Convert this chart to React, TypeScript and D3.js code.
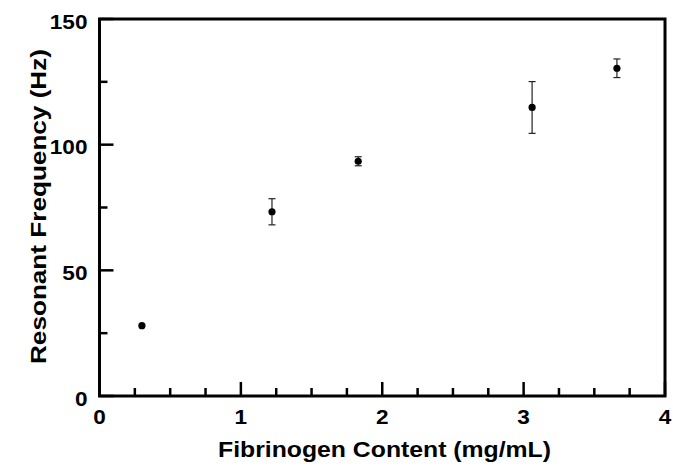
import React from "react";
import * as d3 from "d3";

const fibrinogen = [0.3, 1.22, 1.83, 3.06, 3.66];
const frequency = [28.0, 73.3, 93.4, 114.8, 130.4];
const errors = [0, 5.2, 1.8, 10.3, 3.7];
const xTicks = [0, 1, 2, 3, 4];
const yTicks = [0, 50, 100, 150];
const xMinorTicks = d3.range(0, 4.001, 0.25);
const yMinorTicks = d3.range(0, 150.001, 25);
const xTitle = "Fibrinogen Content (mg/mL)";
const yTitle = "Resonant Frequency (Hz)";

const W = 673;
const H = 469;
const margin = { left: 99.5, right: 673 - 665, top: 19, bottom: 469 - 396 };

export default function App() {
  const x = d3.scaleLinear().domain([0, 4]).range([margin.left, W - margin.right]);
  const y = d3.scaleLinear().domain([0, 150]).range([H - margin.bottom, margin.top]);
  const font = "'Liberation Sans', Arial, Helvetica, sans-serif";
  const x0 = x(0);
  const y0 = y(0);
  return (
    <svg
      width={W}
      height={H}
      style={{ position: "absolute", left: 0, top: 0, background: "#fff" }}
      fontFamily={font}
    >
      <rect x={0} y={0} width={W} height={H} fill="#fff" />
      {/* minor ticks */}
      {xMinorTicks.map((t, i) => {
        const major = Math.abs(t - Math.round(t)) < 1e-6;
        return (
          <line
            key={"xm" + i}
            x1={x(t)}
            x2={x(t)}
            y1={y0}
            y2={y0 - (major ? 14 : 8)}
            stroke="#000"
            strokeWidth={2.5}
          />
        );
      })}
      {yMinorTicks.map((t, i) => {
        const major = Math.abs(t % 50) < 1e-6;
        return (
          <line
            key={"ym" + i}
            x1={x0}
            x2={x0 + (major ? 14 : 8)}
            y1={y(t)}
            y2={y(t)}
            stroke="#000"
            strokeWidth={2.5}
          />
        );
      })}
      {/* frame */}
      <rect
        x={x(0)}
        y={y(150)}
        width={x(4) - x(0)}
        height={y(0) - y(150)}
        fill="none"
        stroke="#000"
        strokeWidth={3}
      />
      {/* tick labels */}
      {xTicks.map((t) => (
        <text
          key={"xt" + t}
          transform={`translate(${x(t)},${y0 + 28}) scale(1.13,1)`}
          textAnchor="middle"
          fontSize={20}
          fontWeight="bold"
        >
          {t}
        </text>
      ))}
      {yTicks.map((t) => (
        <text
          key={"yt" + t}
          transform={`translate(${x0 - 12},${y(t) + 9.5}) scale(1.13,1)`}
          textAnchor="end"
          fontSize={20}
          fontWeight="bold"
        >
          {t}
        </text>
      ))}
      {/* axis titles */}
      <text
        x={384.5}
        y={456.5}
        textAnchor="middle"
        fontSize={22}
        fontWeight="bold"
        textLength={333}
        lengthAdjust="spacingAndGlyphs"
      >
        {xTitle}
      </text>
      <text
        transform={`translate(45.5,206.5) rotate(-90)`}
        textAnchor="middle"
        fontSize={22}
        fontWeight="bold"
        textLength={315}
        lengthAdjust="spacingAndGlyphs"
      >
        {yTitle}
      </text>
      {/* error bars */}
      {fibrinogen.map((fx, i) =>
        errors[i] > 0 ? (
          <g key={"e" + i} stroke="#222" strokeWidth={1.2}>
            <line x1={x(fx)} x2={x(fx)} y1={y(frequency[i] - errors[i])} y2={y(frequency[i] + errors[i])} />
            <line x1={x(fx) - 3.5} x2={x(fx) + 3.5} y1={y(frequency[i] - errors[i])} y2={y(frequency[i] - errors[i])} />
            <line x1={x(fx) - 3.5} x2={x(fx) + 3.5} y1={y(frequency[i] + errors[i])} y2={y(frequency[i] + errors[i])} />
          </g>
        ) : null
      )}
      {/* points */}
      {fibrinogen.map((fx, i) => (
        <circle key={"p" + i} cx={x(fx)} cy={y(frequency[i])} r={3.6} fill="#000" />
      ))}
    </svg>
  );
}
